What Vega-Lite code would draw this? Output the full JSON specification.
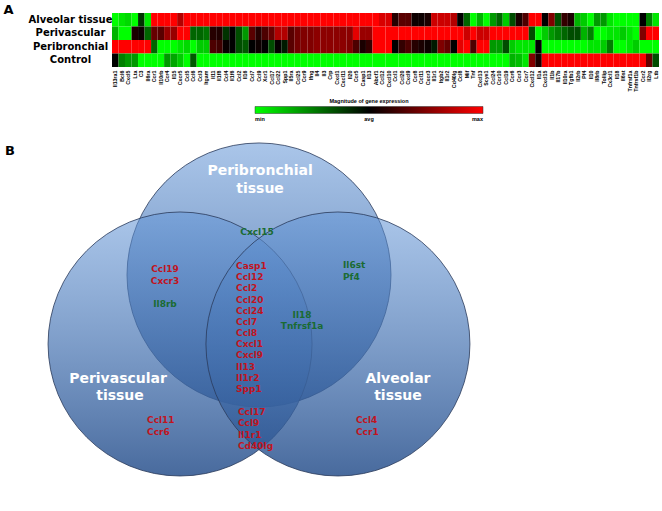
{
  "$schema": "https://vega.github.io/schema/vega-lite/v6.json",
  "background": "white",
  "padding": {"left": 3, "top": 3, "right": 0, "bottom": 0},
  "config": {"view": {"stroke": null}, "font": "DejaVu Sans"},
  "spacing": 4,
  "resolve": {"scale": {"x": "independent", "y": "independent", "color": "independent"}},
  "datasets": {
    "heat": [
      {"gene": "Il13ra1", "Alveolar tissue": -1, "Perivascular": -0.7, "Peribronchial": 1, "Control": 0},
      {"gene": "Bcl6", "Alveolar tissue": -0.9, "Perivascular": -1, "Peribronchial": 1, "Control": -0.5},
      {"gene": "Cxcl5", "Alveolar tissue": -0.85, "Perivascular": -1, "Peribronchial": 1, "Control": -0.6},
      {"gene": "Lta", "Alveolar tissue": -1, "Perivascular": 0.1, "Peribronchial": 1, "Control": -0.6},
      {"gene": "C3", "Alveolar tissue": -0.2, "Perivascular": 0.05, "Peribronchial": 1, "Control": -1},
      {"gene": "Il6ra", "Alveolar tissue": -0.9, "Perivascular": -0.4, "Peribronchial": 1, "Control": -1},
      {"gene": "Ccr1", "Alveolar tissue": 1, "Perivascular": 0.4, "Peribronchial": -0.4, "Control": -1},
      {"gene": "Il10rb", "Alveolar tissue": 1, "Perivascular": 0.35, "Peribronchial": -1, "Control": -1},
      {"gene": "Ccr4", "Alveolar tissue": 1, "Perivascular": 0.6, "Peribronchial": -1, "Control": -0.6},
      {"gene": "Il15", "Alveolar tissue": 1, "Perivascular": 0.6, "Peribronchial": -1, "Control": -0.65},
      {"gene": "Cxcr5", "Alveolar tissue": 0.7, "Perivascular": 1, "Peribronchial": -0.9, "Control": -0.8},
      {"gene": "Ccl5", "Alveolar tissue": 1, "Perivascular": 1, "Peribronchial": -0.85, "Control": -1},
      {"gene": "Ccl6", "Alveolar tissue": 1, "Perivascular": -0.4, "Peribronchial": -1, "Control": -0.35},
      {"gene": "Ccl3", "Alveolar tissue": 1, "Perivascular": -0.4, "Peribronchial": -0.8, "Control": -1},
      {"gene": "Itgam", "Alveolar tissue": 1, "Perivascular": -0.45, "Peribronchial": -0.8, "Control": -1},
      {"gene": "Il11", "Alveolar tissue": 1, "Perivascular": 0.15, "Peribronchial": 0.3, "Control": -1},
      {"gene": "Il1f8", "Alveolar tissue": 1, "Perivascular": 0.12, "Peribronchial": 0.25, "Control": -1},
      {"gene": "Ccl4", "Alveolar tissue": 1, "Perivascular": -0.2, "Peribronchial": 0.03, "Control": -1},
      {"gene": "Il1f6", "Alveolar tissue": 1, "Perivascular": 0, "Peribronchial": 0, "Control": -1},
      {"gene": "Ccl2", "Alveolar tissue": 1, "Perivascular": -0.3, "Peribronchial": -0.3, "Control": -1},
      {"gene": "Il16", "Alveolar tissue": 1, "Perivascular": -0.6, "Peribronchial": -0.35, "Control": -1},
      {"gene": "Ccl7", "Alveolar tissue": 1, "Perivascular": 0.35, "Peribronchial": 0, "Control": -1},
      {"gene": "Ccl9", "Alveolar tissue": 1, "Perivascular": 0.15, "Peribronchial": 0.05, "Control": -1},
      {"gene": "Xcr1", "Alveolar tissue": 1, "Perivascular": 0.3, "Peribronchial": 0, "Control": -1},
      {"gene": "Ccl17", "Alveolar tissue": 1, "Perivascular": 0.4, "Peribronchial": -0.3, "Control": -1},
      {"gene": "Ccl22", "Alveolar tissue": 1, "Perivascular": 0.7, "Peribronchial": 0.02, "Control": -1},
      {"gene": "Spp1", "Alveolar tissue": 1, "Perivascular": 0.7, "Peribronchial": -0.1, "Control": -1},
      {"gene": "Il5ra", "Alveolar tissue": 1, "Perivascular": 0.35, "Peribronchial": 0.35, "Control": -1},
      {"gene": "Ccl25", "Alveolar tissue": 1, "Perivascular": 0.45, "Peribronchial": 0.45, "Control": -1},
      {"gene": "Ccr9", "Alveolar tissue": 1, "Perivascular": 0.5, "Peribronchial": 0.5, "Control": -1},
      {"gene": "Ifng", "Alveolar tissue": 1, "Perivascular": 0.5, "Peribronchial": 0.5, "Control": -1},
      {"gene": "Il4", "Alveolar tissue": 1, "Perivascular": 0.55, "Peribronchial": 0.55, "Control": -1},
      {"gene": "Il3", "Alveolar tissue": 1, "Perivascular": 0.55, "Peribronchial": 0.55, "Control": -1},
      {"gene": "Crp", "Alveolar tissue": 1, "Perivascular": 0.55, "Peribronchial": 0.55, "Control": -1},
      {"gene": "Cxcl1", "Alveolar tissue": 1, "Perivascular": 0.55, "Peribronchial": 0.55, "Control": -1},
      {"gene": "Cxcl11", "Alveolar tissue": 1, "Perivascular": 0.55, "Peribronchial": 0.55, "Control": -1},
      {"gene": "Il20", "Alveolar tissue": 1, "Perivascular": 0.55, "Peribronchial": 0.5, "Control": -1},
      {"gene": "Ccr5", "Alveolar tissue": 1, "Perivascular": 0.9, "Peribronchial": 0.3, "Control": -1},
      {"gene": "Casp1", "Alveolar tissue": 1, "Perivascular": 0.6, "Peribronchial": 0.1, "Control": -1},
      {"gene": "Il13", "Alveolar tissue": 1, "Perivascular": 0.6, "Peribronchial": 0.2, "Control": -1},
      {"gene": "Abcf1", "Alveolar tissue": 1, "Perivascular": 1, "Peribronchial": 1, "Control": -1},
      {"gene": "Ccl12", "Alveolar tissue": 0.85, "Perivascular": 1, "Peribronchial": 1, "Control": -1},
      {"gene": "Cxcl10", "Alveolar tissue": 0.85, "Perivascular": 1, "Peribronchial": 1, "Control": -1},
      {"gene": "Ccl1", "Alveolar tissue": 0.15, "Perivascular": 1, "Peribronchial": 0, "Control": -1},
      {"gene": "Ccl20", "Alveolar tissue": 0.35, "Perivascular": 1, "Peribronchial": 0.2, "Control": -1},
      {"gene": "Cxcl9", "Alveolar tissue": 0.35, "Perivascular": 1, "Peribronchial": 0.3, "Control": -1},
      {"gene": "Ccr8", "Alveolar tissue": 0.05, "Perivascular": 1, "Peribronchial": 0.15, "Control": -1},
      {"gene": "Ccl11", "Alveolar tissue": 0.05, "Perivascular": 1, "Peribronchial": 0.1, "Control": -1},
      {"gene": "Cxcr3", "Alveolar tissue": 0.1, "Perivascular": 1, "Peribronchial": 0.05, "Control": -1},
      {"gene": "Il1r1", "Alveolar tissue": 0.8, "Perivascular": 1, "Peribronchial": -0.1, "Control": -1},
      {"gene": "Itgb2", "Alveolar tissue": 0.8, "Perivascular": 1, "Peribronchial": 0.5, "Control": -1},
      {"gene": "Il1r2", "Alveolar tissue": 0.8, "Perivascular": 1, "Peribronchial": 0.4, "Control": -1},
      {"gene": "Cd40lg", "Alveolar tissue": 0.7, "Perivascular": 1, "Peribronchial": 0, "Control": -1},
      {"gene": "Ccl8", "Alveolar tissue": 0, "Perivascular": 1, "Peribronchial": 0.9, "Control": -1},
      {"gene": "Mif", "Alveolar tissue": -0.4, "Perivascular": 0.8, "Peribronchial": 1, "Control": -1},
      {"gene": "Tnf", "Alveolar tissue": -1, "Perivascular": 1, "Peribronchial": 0.3, "Control": -1},
      {"gene": "Cxcl13", "Alveolar tissue": -0.7, "Perivascular": 0.8, "Peribronchial": 1, "Control": -1},
      {"gene": "Scye1", "Alveolar tissue": -1, "Perivascular": 0.8, "Peribronchial": 1, "Control": -1},
      {"gene": "Ccl24", "Alveolar tissue": -0.6, "Perivascular": 1, "Peribronchial": -0.6, "Control": -1},
      {"gene": "Ccr10", "Alveolar tissue": -0.4, "Perivascular": 1, "Peribronchial": -0.6, "Control": -1},
      {"gene": "Ccl19", "Alveolar tissue": -0.8, "Perivascular": 1, "Peribronchial": -0.3, "Control": -1},
      {"gene": "Ccr6", "Alveolar tissue": -0.3, "Perivascular": 1, "Peribronchial": -0.8, "Control": -0.7},
      {"gene": "Ccr3", "Alveolar tissue": 0.1, "Perivascular": 1, "Peribronchial": -0.9, "Control": -0.75},
      {"gene": "Ccr7", "Alveolar tissue": 0.3, "Perivascular": 1, "Peribronchial": -0.9, "Control": -0.9},
      {"gene": "Cxcl12", "Alveolar tissue": 1, "Perivascular": -0.3, "Peribronchial": -0.9, "Control": 0.5},
      {"gene": "Il1a", "Alveolar tissue": 1, "Perivascular": -1, "Peribronchial": 0, "Control": 0.1},
      {"gene": "Cxcl15", "Alveolar tissue": 0, "Perivascular": -0.8, "Peribronchial": -1, "Control": 1},
      {"gene": "Il1b", "Alveolar tissue": 0.5, "Perivascular": -0.6, "Peribronchial": -1, "Control": 1},
      {"gene": "Il17b", "Alveolar tissue": -0.3, "Perivascular": -0.5, "Peribronchial": -1, "Control": 1},
      {"gene": "Il10ra", "Alveolar tissue": 0.2, "Perivascular": -0.4, "Peribronchial": -1, "Control": 1},
      {"gene": "Tgfb1", "Alveolar tissue": 0.1, "Perivascular": -0.3, "Peribronchial": -1, "Control": 1},
      {"gene": "Il2rb", "Alveolar tissue": -0.7, "Perivascular": -0.3, "Peribronchial": -1, "Control": 1},
      {"gene": "Pf4", "Alveolar tissue": -0.8, "Perivascular": -0.7, "Peribronchial": -1, "Control": 1},
      {"gene": "Il10", "Alveolar tissue": -1, "Perivascular": -0.5, "Peribronchial": -0.9, "Control": 1},
      {"gene": "Il8rb", "Alveolar tissue": -0.6, "Perivascular": -1, "Peribronchial": -0.9, "Control": 1},
      {"gene": "Tollip", "Alveolar tissue": -0.6, "Perivascular": -1, "Peribronchial": -0.8, "Control": 1},
      {"gene": "Cx3cl1", "Alveolar tissue": -0.9, "Perivascular": -0.9, "Peribronchial": -0.5, "Control": 1},
      {"gene": "Il18", "Alveolar tissue": -1, "Perivascular": -0.9, "Peribronchial": -1, "Control": 1},
      {"gene": "Il6st", "Alveolar tissue": -1, "Perivascular": -0.8, "Peribronchial": -1, "Control": 1},
      {"gene": "Tnfrsf1a", "Alveolar tissue": -1, "Perivascular": -0.9, "Peribronchial": -0.9, "Control": 1},
      {"gene": "Tnfrsf1b", "Alveolar tissue": -1, "Perivascular": -1, "Peribronchial": -0.8, "Control": 1},
      {"gene": "Ccr2", "Alveolar tissue": 0, "Perivascular": 0.5, "Peribronchial": -1, "Control": 1},
      {"gene": "Il2rg", "Alveolar tissue": -0.5, "Perivascular": 1, "Peribronchial": -1, "Control": 0.4},
      {"gene": "Ltb", "Alveolar tissue": -0.9, "Perivascular": 1, "Peribronchial": -1, "Control": -0.3}
    ],
    "circles": [
      {"set": "Peribronchial", "u": 0, "v": 0.523},
      {"set": "Perivascular", "u": -0.598, "v": 0},
      {"set": "Alveolar", "u": 0.598, "v": 0}
    ],
    "titles": [
      {"label": "Peribronchial", "u": 0.008, "v": 1.311},
      {"label": "tissue", "u": 0.008, "v": 1.174},
      {"label": "Perivascular", "u": -1.068, "v": -0.265},
      {"label": "tissue", "u": -1.053, "v": -0.394},
      {"label": "Alveolar", "u": 1.053, "v": -0.265},
      {"label": "tissue", "u": 1.053, "v": -0.394}
    ],
    "centerGenes": [
      {"label": "Cxcl15", "u": -0.015, "v": 0.848, "dir": "down"},
      {"label": "Ccl19", "u": -0.712, "v": 0.568, "dir": "up"},
      {"label": "Cxcr3", "u": -0.712, "v": 0.477, "dir": "up"},
      {"label": "Il8rb", "u": -0.712, "v": 0.303, "dir": "down"},
      {"label": "Il18", "u": 0.326, "v": 0.22, "dir": "down"},
      {"label": "Tnfrsf1a", "u": 0.326, "v": 0.136, "dir": "down"}
    ],
    "leftGenes": [
      {"label": "Casp1", "u": -0.174, "v": 0.591, "dir": "up"},
      {"label": "Ccl12", "u": -0.174, "v": 0.506, "dir": "up"},
      {"label": "Ccl2", "u": -0.174, "v": 0.421, "dir": "up"},
      {"label": "Ccl20", "u": -0.174, "v": 0.337, "dir": "up"},
      {"label": "Ccl24", "u": -0.174, "v": 0.252, "dir": "up"},
      {"label": "Ccl7", "u": -0.174, "v": 0.167, "dir": "up"},
      {"label": "Ccl8", "u": -0.174, "v": 0.083, "dir": "up"},
      {"label": "Cxcl1", "u": -0.174, "v": -0.002, "dir": "up"},
      {"label": "Cxcl9", "u": -0.174, "v": -0.087, "dir": "up"},
      {"label": "Il13", "u": -0.174, "v": -0.171, "dir": "up"},
      {"label": "Il1r2", "u": -0.174, "v": -0.256, "dir": "up"},
      {"label": "Spp1", "u": -0.174, "v": -0.341, "dir": "up"},
      {"label": "Il6st", "u": 0.636, "v": 0.598, "dir": "down"},
      {"label": "Pf4", "u": 0.636, "v": 0.508, "dir": "down"},
      {"label": "Ccl11", "u": -0.848, "v": -0.576, "dir": "up"},
      {"label": "Ccr6", "u": -0.848, "v": -0.667, "dir": "up"},
      {"label": "Ccl17", "u": -0.159, "v": -0.515, "dir": "up"},
      {"label": "Ccl9", "u": -0.159, "v": -0.598, "dir": "up"},
      {"label": "Il1r1", "u": -0.159, "v": -0.689, "dir": "up"},
      {"label": "Cd40lg", "u": -0.159, "v": -0.773, "dir": "up"},
      {"label": "Ccl4", "u": 0.735, "v": -0.576, "dir": "up"},
      {"label": "Ccr1", "u": 0.735, "v": -0.667, "dir": "up"}
    ],
    "panelB": [{"label": "B", "u": -1.924, "v": 1.462}]
  },
  "vconcat": [
    {
      "width": 547,
      "height": 54,
      "data": {"name": "heat"},
      "transform": [{"fold": ["Alveolar tissue", "Perivascular", "Peribronchial", "Control"], "as": ["tissue", "value"]}],
      "mark": {"type": "rect"},
      "encoding": {
        "x": {
          "field": "gene", "type": "nominal", "sort": null,
          "scale": {"paddingInner": 0, "paddingOuter": 0},
          "axis": {"title": null, "labelAngle": 270, "labelFontSize": 5.3, "labelFont": "Liberation Sans", "labelFontWeight": "bold", "labelColor": "#000", "ticks": false, "domain": false, "labelPadding": 3, "labelOverlap": false}
        },
        "y": {
          "field": "tissue", "type": "nominal",
          "sort": ["Alveolar tissue", "Perivascular", "Peribronchial", "Control"],
          "scale": {"paddingInner": 0, "paddingOuter": 0},
          "axis": {"title": "A", "titleAngle": 0, "titleX": -109, "titleY": -10, "titleAlign": "left", "titleBaseline": "top", "titleFontSize": 13, "titleFont": "DejaVu Sans", "titleFontWeight": "bold", "titleColor": "#000", "labelFontSize": 10, "labelFont": "DejaVu Sans", "labelFontWeight": "bold", "labelColor": "#000", "labelAlign": "center", "ticks": false, "domain": false, "labelPadding": 42}
        },
        "color": {
          "field": "value", "type": "quantitative",
          "scale": {"domain": [-1, 0, 1], "range": ["#00ff00", "#000000", "#ff0000"], "interpolate": "rgb"},
          "legend": {
            "orient": "none", "legendX": 143, "legendY": 86, "direction": "horizontal",
            "gradientLength": 228, "gradientThickness": 7,
            "gradientStrokeColor": "#333", "gradientStrokeWidth": 0.5,
            "title": "Magnitude of gene expression", "titleFontSize": 5.5, "titleFont": "Liberation Sans", "titleFontWeight": "bold", "titleColor": "#000", "titleAnchor": "middle", "titlePadding": 2,
            "values": [-1, 0, 1],
            "labelExpr": "datum.value < -0.5 ? 'min' : (datum.value > 0.5 ? 'max' : 'avg')",
            "labelFontSize": 5.5, "labelFont": "Liberation Sans", "labelFontWeight": "bold", "labelColor": "#000", "labelOffset": 3
          }
        }
      }
    },
    {
      "width": 350,
      "height": 384,
      "encoding": {
        "x": {"field": "u", "type": "quantitative", "scale": {"domain": [-1.1136, 1.5379], "nice": false, "zero": false}, "axis": null},
        "y": {"field": "v", "type": "quantitative", "scale": {"domain": [-1.2576, 1.6515], "nice": false, "zero": false}, "axis": null}
      },
      "layer": [
        {
          "data": {"name": "circles"},
          "mark": {
            "type": "point", "shape": "circle", "filled": true, "size": 69696, "opacity": 1,
            "fill": {"gradient": "linear", "x1": 0, "y1": 0, "x2": 0, "y2": 1,
              "stops": [{"offset": 0, "color": "rgba(100,150,215,0.55)"}, {"offset": 1, "color": "rgba(40,80,140,0.85)"}]},
            "stroke": "#2a3a5a", "strokeWidth": 0.8
          }
        },
        {
          "data": {"name": "titles"},
          "mark": {"type": "text", "align": "center", "baseline": "middle", "font": "DejaVu Sans", "fontWeight": "bold", "fontSize": 14, "color": "#ffffff"},
          "encoding": {"text": {"field": "label"}}
        },
        {
          "data": {"name": "centerGenes"},
          "mark": {"type": "text", "align": "center", "baseline": "middle", "font": "DejaVu Sans", "fontWeight": "bold", "fontSize": 9},
          "encoding": {
            "text": {"field": "label"},
            "color": {"field": "dir", "type": "nominal", "scale": {"domain": ["up", "down"], "range": ["#c0141e", "#1a6b32"]}, "legend": null}
          }
        },
        {
          "data": {"name": "leftGenes"},
          "mark": {"type": "text", "align": "left", "baseline": "middle", "font": "DejaVu Sans", "fontWeight": "bold", "fontSize": 9},
          "encoding": {
            "text": {"field": "label"},
            "color": {"field": "dir", "type": "nominal", "scale": {"domain": ["up", "down"], "range": ["#c0141e", "#1a6b32"]}, "legend": null}
          }
        },
        {
          "data": {"name": "panelB"},
          "mark": {"type": "text", "align": "left", "baseline": "middle", "font": "DejaVu Sans", "fontWeight": "bold", "fontSize": 13, "color": "#000000"},
          "encoding": {"text": {"field": "label"}}
        }
      ]
    }
  ]
}
